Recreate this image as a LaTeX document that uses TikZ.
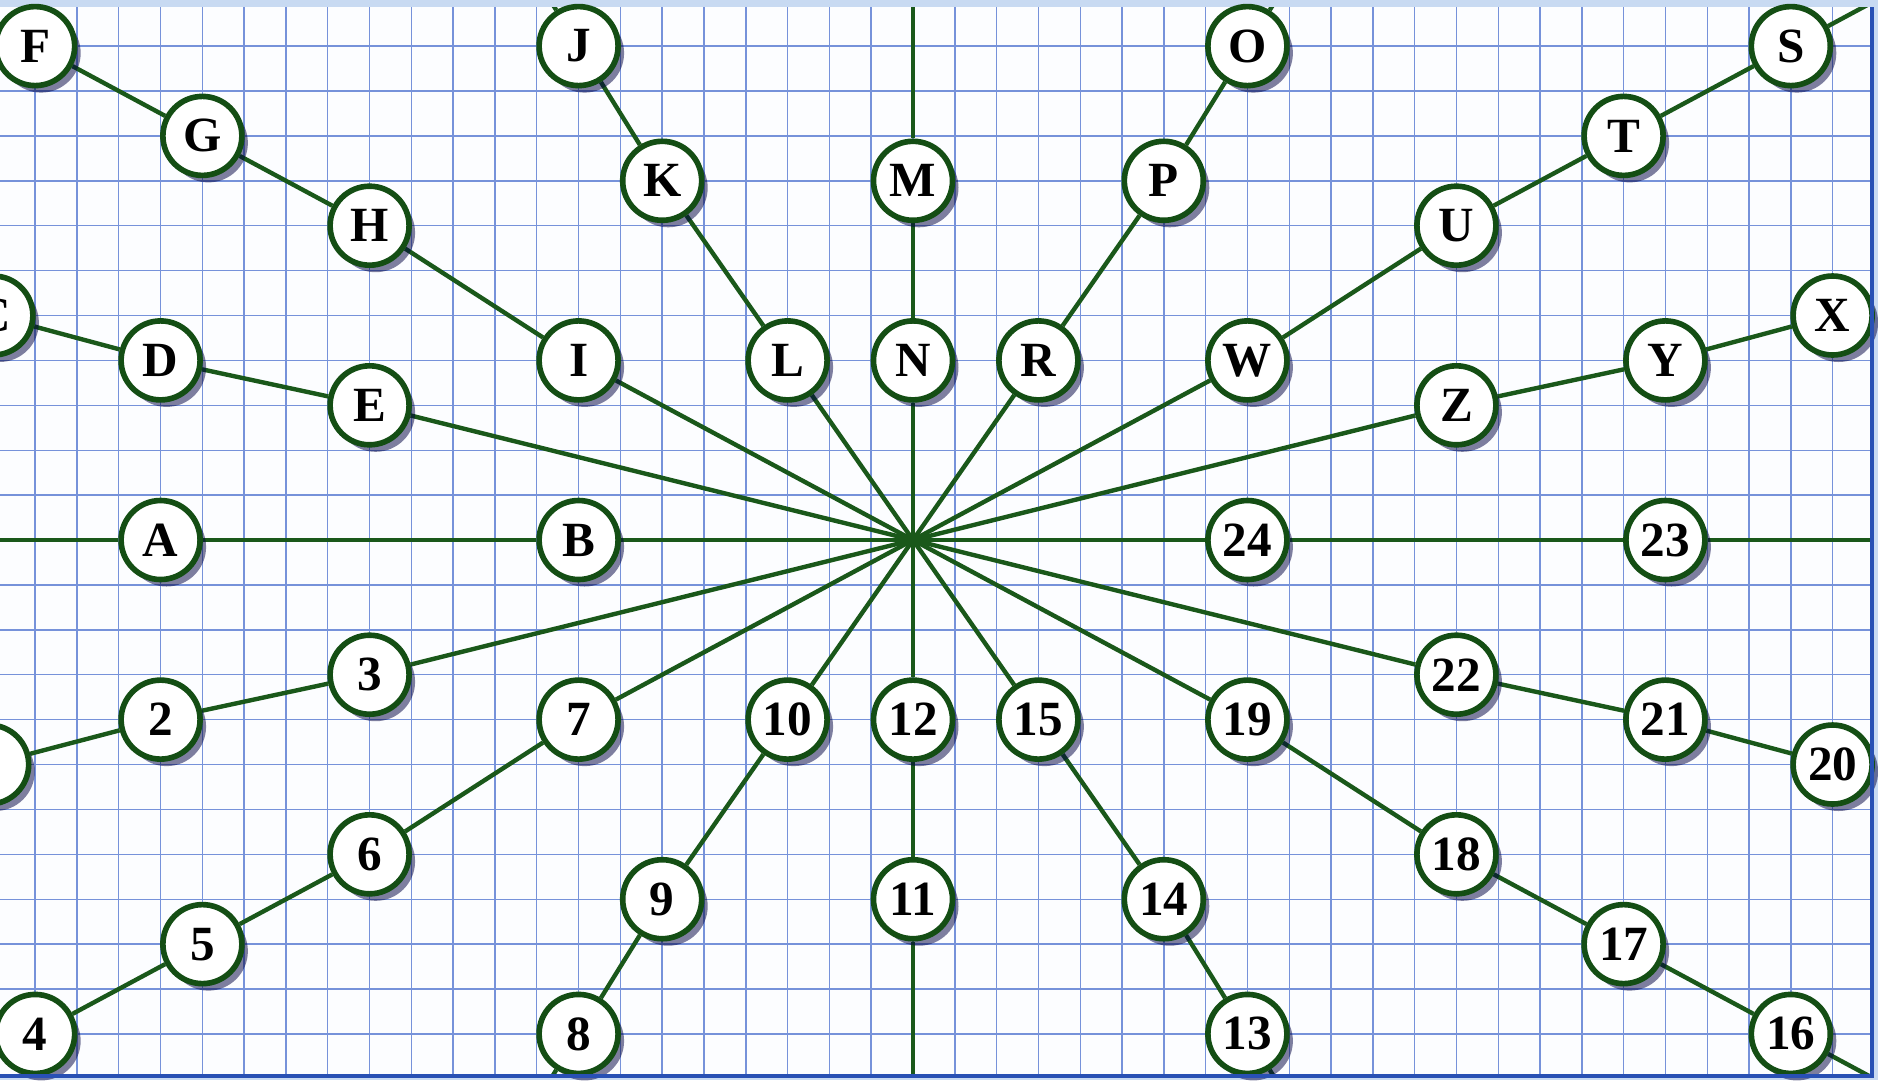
\documentclass[tikz,border=0pt]{standalone}
\usepackage{fontspec}
\setmainfont{Liberation Serif}
\usetikzlibrary{shadows, backgrounds}

\definecolor{paper}{RGB}{252,253,255}
\definecolor{gridblue}{RGB}{118,146,218}
\definecolor{bandblue}{RGB}{200,218,242}
\definecolor{edgeblue}{RGB}{40,80,180}
\definecolor{raygreen}{RGB}{26,88,26}
\definecolor{ringgreen}{RGB}{20,78,20}

\tikzset{
    letter/.style={circle, draw=ringgreen, line width=1.6pt, fill=white,
        minimum size=0.79cm, inner sep=0pt,
        font=\fontsize{14}{14}\selectfont\bfseries,
        drop shadow={shadow xshift=0.6mm, shadow yshift=-0.7mm,
            fill=black!75!blue, opacity=0.5}},
    ray/.style={draw=raygreen, line width=1.25pt},
}

\begin{document}
\begin{tikzpicture}[x=0.418cm, y=0.449cm]
    \useasboundingbox (-21.842,-12.027) rectangle (23.086,12.027);

    % circles
    \foreach \n/\x/\y in {A/-18/0, B/-8/0, 24/8/0, 23/18/0,
            N/0/4, M/0/8, 12/0/-4, 11/0/-8,
            E/-13/3, D/-18/4, C/-22/5, Z/13/3, Y/18/4, X/22/5,
            3/-13/-3, 2/-18/-4, 1/-22.1/-5, 22/13/-3, 21/18/-4, 20/22/-5,
            I/-8/4, H/-13/7, G/-17/9, F/-21/11,
            W/8/4, U/13/7, T/17/9, S/21/11,
            7/-8/-4, 6/-13/-7, 5/-17/-9, 4/-21/-11,
            19/8/-4, 18/13/-7, 17/17/-9, 16/21/-11,
            L/-3/4, K/-6/8, J/-8/11, R/3/4, P/6/8, O/8/11,
            10/-3/-4, 9/-6/-8, 8/-8/-11, 15/3/-4, 14/6/-8, 13/8/-11}
        \node[letter] (n\n) at (\x,\y) {\n};

    \coordinate (hub) at (0,0);
    % free ends at the paper edge
    \foreach \n/\x/\y in {A/-23/0, 23/24/0, M/0/13, 11/0/-13,
            S/25/13, 16/25/-13, J/-8.8/12.2, O/8.8/12.2,
            8/-8.8/-12.2, 13/8.8/-12.2}
        \coordinate (e\n) at (\x,\y);

    \begin{scope}[on background layer]
        \fill[bandblue] (-21.842,-12.027) rectangle (23.086,12.027);
        \fill[paper] (-21.842,-11.93) rectangle (22.95,11.87);
        \clip (-21.842,-11.93) rectangle (22.95,11.87);
        \draw[gridblue, line width=0.4pt, step=1] (-22,-12) grid (23,12);
        \foreach \a/\b in {hub/nB, nB/nA, nA/eA, hub/n24, n24/n23, n23/e23,
                hub/nN, nN/nM, nM/eM, hub/n12, n12/n11, n11/e11,
                hub/nE, nE/nD, nD/nC, hub/nZ, nZ/nY, nY/nX,
                hub/n3, n3/n2, n2/n1, hub/n22, n22/n21, n21/n20,
                hub/nI, nI/nH, nH/nG, nG/nF,
                hub/nW, nW/nU, nU/nT, nT/nS, nS/eS,
                hub/n7, n7/n6, n6/n5, n5/n4,
                hub/n19, n19/n18, n18/n17, n17/n16, n16/e16,
                hub/nL, nL/nK, nK/nJ, nJ/eJ, hub/nR, nR/nP, nP/nO, nO/eO,
                hub/n10, n10/n9, n9/n8, n8/e8, hub/n15, n15/n14, n14/n13, n13/e13}
            \draw[ray] (\a) -- (\b);
    \end{scope}
    \draw[edgeblue, line width=1.2pt] (-21.842,-11.93) -- (22.95,-11.93) -- (22.95,11.87);
\end{tikzpicture}
\end{document}
